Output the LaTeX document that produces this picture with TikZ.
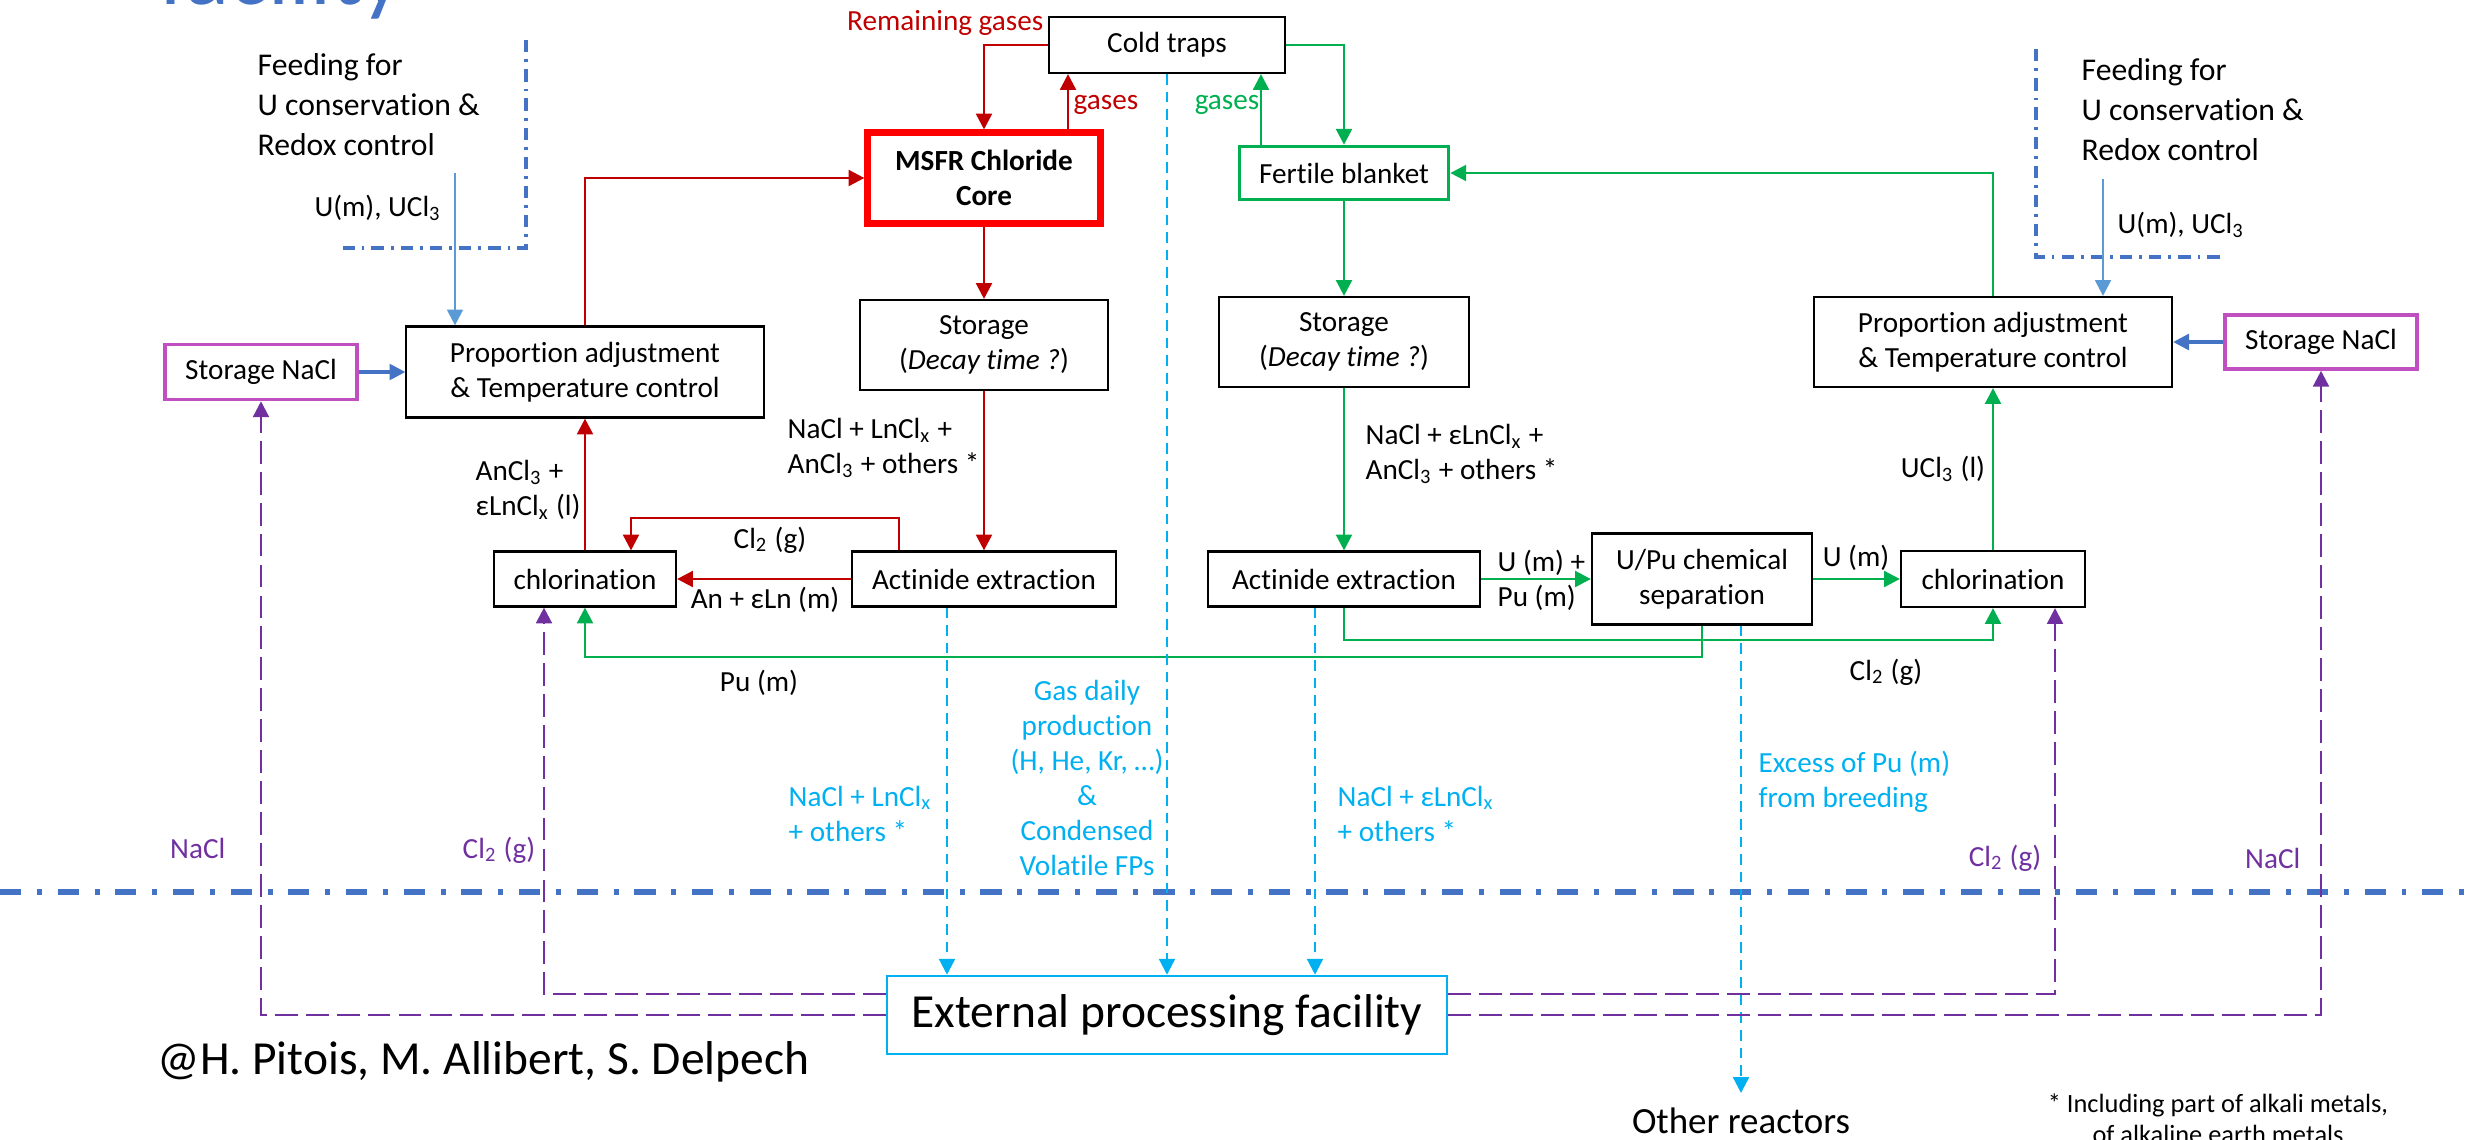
\documentclass[tikz,border=0pt]{standalone}
\usepackage{fontspec}
\setmainfont{Carlito}[Ligatures={NoCommon}]
\usetikzlibrary{arrows.meta}

\definecolor{darkred}{RGB}{192,0,0}
\definecolor{corered}{RGB}{255,0,0}
\definecolor{leafgreen}{RGB}{0,176,80}
\definecolor{skyblue}{RGB}{0,176,240}
\definecolor{saltpurple}{RGB}{112,48,160}
\definecolor{naclpink}{RGB}{192,80,192}
\definecolor{slideblue}{RGB}{68,114,196}
\definecolor{feedblue}{RGB}{91,155,213}

\begin{document}
\begin{tikzpicture}[x=0.01cm, y=-0.01cm,
    txt/.style={font=\fontsize{8.3}{10}\selectfont, inner sep=0pt},
    box/.style={draw, line width=0.6pt, align=center, inner sep=2pt,
                font=\fontsize{8.3}{10}\selectfont},
    flowtip/.style={-{Triangle[length=4.5pt, width=4.5pt]}},
    redflow/.style={flowtip, darkred, line width=0.75pt},
    greenflow/.style={flowtip, leafgreen, line width=0.75pt},
    gasflow/.style={flowtip, skyblue, line width=0.65pt, dash pattern=on 3pt off 2pt},
    saltflow/.style={flowtip, saltpurple, line width=0.7pt, dash pattern=on 6.5pt off 2.3pt},
    feedline/.style={slideblue, line width=0.9pt, dash pattern=on 3.5pt off 2pt on 0.8pt off 2pt}]
    \useasboundingbox (0,0) rectangle (2469,1139);

    \node [anchor=base west, inner sep=0pt, text=slideblue, font=\fontsize{26}{30}\selectfont] (title) at (159, 4) {facility};

    %---------------------------------------------------------------%
    % fuel salt side
    \node [box, minimum width=2.35cm, minimum height=0.56cm] (coldtraps) at (1167, 45) {Cold traps};
    \node [box, draw=corered, line width=2pt, minimum width=2.32cm, minimum height=0.90cm,
           font=\fontsize{8.3}{10}\selectfont\bfseries] (msfr) at (984, 178) {MSFR Chloride\\Core};
    \node [box, minimum width=2.47cm, minimum height=0.90cm] (storL) at (984, 345) {Storage\\(\textit{Decay time ?})};
    \node [box, minimum width=2.64cm, minimum height=0.55cm] (actL) at (984, 579) {Actinide extraction};
    \node [box, minimum width=1.82cm, minimum height=0.55cm] (chlorL) at (585, 579) {chlorination};
    \node [box, minimum width=3.57cm, minimum height=0.91cm] (propL) at (585, 372) {Proportion adjustment\\\& Temperature control};
    \node [box, draw=naclpink, line width=1pt, minimum width=1.92cm, minimum height=0.55cm] (naclL) at (261, 372) {Storage NaCl};

    %---------------------------------------------------------------%
    % blanket side
    \node [box, draw=leafgreen, line width=1pt, minimum width=2.09cm, minimum height=0.53cm] (fertile) at (1344, 173) {Fertile blanket};
    \node [box, minimum width=2.49cm, minimum height=0.90cm] (storR) at (1344, 342) {Storage\\(\textit{Decay time ?})};
    \node [box, minimum width=2.72cm, minimum height=0.55cm] (actR) at (1344, 579) {Actinide extraction};
    \node [box, minimum width=2.20cm, minimum height=0.91cm] (upu) at (1702, 579) {U/Pu chemical\\separation};
    \node [box, minimum width=1.84cm, minimum height=0.56cm] (chlorR) at (1993, 579) {chlorination};
    \node [box, minimum width=3.58cm, minimum height=0.90cm] (propR) at (1993, 342) {Proportion adjustment\\\& Temperature control};
    \node [box, draw=naclpink, line width=1pt, minimum width=1.92cm, minimum height=0.54cm] (naclR) at (2321, 342) {Storage NaCl};

    \node [box, draw=skyblue, line width=0.7pt, minimum width=5.60cm, minimum height=0.78cm,
           font=\fontsize{13.5}{16}\selectfont] (ext) at (1167, 1015) {External processing facility};

    %---------------------------------------------------------------%
    % feeding and site limits
    \draw [feedline] (526, 40) -- (526, 248) -- (343, 248);
    \draw [feedline] (2036, 49) -- (2036, 257) -- (2226, 257);
    \draw [slideblue, line width=1.6pt, dash pattern=on 6pt off 4.5pt on 1.4pt off 4.5pt] (0, 892) -- (2469, 892);

    \node [txt, anchor=west, align=left, font=\fontsize{9}{11.4}\selectfont] (feedtxtL) at (257, 105) {Feeding for\\U conservation \&\\Redox control};
    \node [txt, anchor=west, align=left, font=\fontsize{9}{11.4}\selectfont] (feedtxtR) at (2081, 110) {Feeding for\\U conservation \&\\Redox control};
    \coordinate (feedL) at (455, 173);
    \coordinate (feedR) at (2103, 179);
    \draw [flowtip, feedblue, line width=0.6pt] (feedL) -- (feedL |- propL.north);
    \draw [flowtip, feedblue, line width=0.6pt] (feedR) -- (feedR |- propR.north);
    \node [txt, anchor=east] (feedlblL) at (442, 208) {U(m), UCl\textsubscript{3}};
    \node [txt, anchor=west] (feedlblR) at (2117, 225) {U(m), UCl\textsubscript{3}};

    \draw [flowtip, slideblue, line width=0.9pt] (naclL.east) -- (propL.west);
    \draw [flowtip, slideblue, line width=0.9pt] (naclR.west) -- (propR.east);

    %---------------------------------------------------------------%
    % red loop
    \draw [redflow] (propL.north) |- (msfr.west);
    \draw [redflow] (coldtraps.west) -| (msfr.north);
    \coordinate (gasR) at (1068, 0);
    \draw [redflow] (gasR |- msfr.north) -- (gasR |- coldtraps.south);
    \draw [redflow] (msfr.south) -- (storL.north);
    \draw [redflow] (storL.south) -- (actL.north);
    \draw [redflow] (actL.west) -- (chlorL.east);
    \coordinate (clUp) at (899, 518);
    \coordinate (clDown) at (631, 518);
    \draw [redflow] (clUp |- actL.north) -- (clUp) -- (clDown) -- (clDown |- chlorL.north);
    \draw [redflow] (chlorL.north) -- (propL.south);

    \node [txt, darkred, anchor=east] (remgas) at (1044, 23) {Remaining gases};
    \node [txt, darkred, anchor=west] (gasesR) at (1073, 105) {gases};
    \node [txt, anchor=west, align=left] (lblStorL) at (787, 448) {NaCl + LnCl\textsubscript{x} +\\AnCl\textsubscript{3} + others *};
    \node [txt, anchor=west, align=left] (lblChlorL) at (475, 490) {AnCl\textsubscript{3} +\\εLnCl\textsubscript{x} (l)};
    \node [txt] (lblCl2L) at (770, 540) {Cl\textsubscript{2} (g)};
    \node [txt] (lblAnLn) at (765, 600) {An + εLn (m)};

    %---------------------------------------------------------------%
    % green loop
    \draw [greenflow] (coldtraps.east) -| (fertile.north);
    \coordinate (gasG) at (1261, 0);
    \draw [greenflow] (gasG |- fertile.north) -- (gasG |- coldtraps.south);
    \draw [greenflow] (fertile.south) -- (storR.north);
    \draw [greenflow] (storR.south) -- (actR.north);
    \draw [greenflow] (actR.east) -- (upu.west);
    \draw [greenflow] (upu.east) -- (chlorR.west);
    \draw [greenflow] (chlorR.north) -- (propR.south);
    \draw [greenflow] (propR.north) |- (fertile.east);
    \coordinate (clRow) at (0, 640);
    \draw [greenflow] (actR.south) -- (actR.south |- clRow) -| (chlorR.south);
    \coordinate (puRow) at (0, 657);
    \draw [greenflow] (upu.south) -- (upu.south |- puRow) -| (chlorL.south);

    \node [txt, leafgreen, anchor=east] (gasesG) at (1260, 105) {gases};
    \node [txt, anchor=west, align=left] (lblStorR) at (1365, 454) {NaCl + εLnCl\textsubscript{x} +\\AnCl\textsubscript{3} + others *};
    \node [txt, anchor=west, align=left] (lblUPu) at (1497, 580) {U (m) +\\Pu (m)};
    \node [txt] (lblU) at (1856, 558) {U (m)};
    \node [txt] (lblUCl3) at (1943, 469) {UCl\textsubscript{3} (l)};
    \node [txt] (lblCl2R) at (1886, 672) {Cl\textsubscript{2} (g)};
    \node [txt] (lblPu) at (759, 683) {Pu (m)};

    %---------------------------------------------------------------%
    % to and from the external facility
    \foreach \src/\lane in {actL/947, coldtraps/1167, actR/1315}{% one lane per source
        \coordinate (lane) at (\lane, 0);
        \draw [gasflow] (lane |- \src.south) -- (lane |- ext.north);
    }
    \node [anchor=north, inner xsep=0pt, inner ysep=4pt, font=\fontsize{10.5}{12}\selectfont] (others) at (1741, 1093) {Other reactors};
    \draw [gasflow] (others.north |- upu.south) -- (others.north);

    \draw [saltflow] (ext.west) -| (naclL.south);
    \draw [saltflow] (ext.east) -| (naclR.south);
    \coordinate (cl2L) at (544, 994);
    \draw [saltflow] (ext.west |- cl2L) -- (cl2L) -- (cl2L |- chlorL.south);
    \coordinate (cl2R) at (2055, 994);
    \draw [saltflow] (ext.east |- cl2R) -- (cl2R) -- (cl2R |- chlorR.south);

    \node [txt, skyblue, anchor=west, align=left] (lblOutL) at (788, 814) {NaCl + LnCl\textsubscript{x}\\+ others *};
    \node [txt, skyblue, align=center] (lblGas) at (1087, 778) {Gas daily\\production\\(H, He, Kr, …)\\\&\\Condensed\\Volatile FPs};
    \node [txt, skyblue, anchor=west, align=left] (lblOutR) at (1337, 814) {NaCl + εLnCl\textsubscript{x}\\+ others *};
    \node [txt, skyblue, anchor=west, align=left] (lblExcess) at (1758, 782) {Excess of Pu (m)\\from breeding};
    \node [txt, saltpurple, anchor=east] (lblNaclL) at (226, 848) {NaCl};
    \node [txt, saltpurple, anchor=east] (lblCl2gL) at (536, 850) {Cl\textsubscript{2} (g)};
    \node [txt, saltpurple, anchor=east] (lblCl2gR) at (2042, 858) {Cl\textsubscript{2} (g)};
    \node [txt, saltpurple, anchor=east] (lblNaclR) at (2301, 858) {NaCl};

    \node [txt, anchor=west, font=\fontsize{13.5}{16}\selectfont] (authors) at (157, 1062) {@H. Pitois, M. Allibert, S. Delpech};
    \node [txt, anchor=north, align=center, font=\fontsize{7.5}{8.8}\selectfont] (footnote) at (2218, 1093) {* Including part of alkali metals,\\of alkaline earth metals};
\end{tikzpicture}
\end{document}
